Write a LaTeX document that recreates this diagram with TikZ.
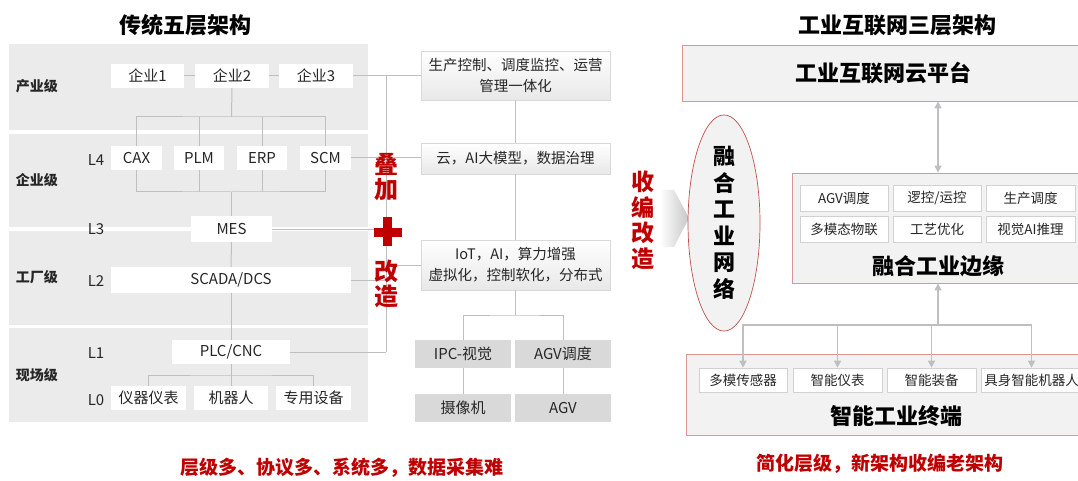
\documentclass[tikz,border=0pt]{standalone}
\usepackage{fontspec}
\setmainfont{Noto Sans CJK SC}
\usetikzlibrary{arrows.meta,shapes.geometric}
\definecolor{bandgray}{HTML}{EBEBEB}
\definecolor{lgray}{HTML}{BFBFBF}
\definecolor{dred}{HTML}{C00000}
\definecolor{pinkb}{HTML}{D99694}
\definecolor{ellb}{HTML}{C0504D}
\definecolor{panel}{HTML}{F2F2F2}
\definecolor{boxgray}{HTML}{D9D9D9}
\definecolor{txt}{HTML}{262626}
\newcommand{\fz}[2]{\fontsize{#1}{#2}\selectfont}
\tikzset{
  bb/.style n args={4}{minimum width={(#3)-(#1)}, minimum height={(#4)-(#2)}, at={({((#1)+(#3))/2},{((#2)+(#4))/2})}},
  band/.style={fill=bandgray, draw=none, inner sep=0pt},
  wbox/.style={fill=white, draw=none, inner sep=0pt, text=txt, font=\fz{15}{16}},
  lvl/.style={text=txt, font=\fz{14}{16}\bfseries},
  lnum/.style={text=txt, font=\fz{15}{17}},
  conn/.style={draw=lgray, line width=1pt},
  mbox/.style={draw=boxgray, top color=white, bottom color=black!9, inner sep=0pt, text=txt, align=center, font=\fz{14.5}{21}},
  gbox/.style={fill=boxgray, draw=none, inner sep=0pt, text=txt, font=\fz{15}{17}},
  redv/.style={text=dred, align=center, font=\fz{24}{25.5}\bfseries},
  redt/.style={text=dred, font=\fz{19}{22}\bfseries},
  title/.style={text=black, font=\fz{22}{26}\bfseries},
  panelbox/.style={fill=panel, draw=pinkb, line width=0.8pt, inner sep=0pt},
  ibox/.style={fill=white, draw=black!18, line width=0.6pt, inner sep=0pt, text=txt, font=\fz{13.5}{16}},
  garrow/.style={draw=lgray, line width=1.4pt, -{Triangle[width=7pt,length=7pt]}},
}
\begin{document}
\begin{tikzpicture}[x=1pt,y=-1pt]
\path[use as bounding box, fill=white] (0,0) rectangle (1078,481);
\clip (0,0) rectangle (1078,481);

% ---------- left: traditional five-layer ----------
\node[title] (t1) at (185,25) {传统五层架构};
\node[band, bb={9}{44}{368}{130}] (b1) {};
\node[band, bb={9}{134}{368}{227}] (b2) {};
\node[band, bb={9}{231}{368}{325}] (b3) {};
\node[band, bb={9}{328}{368}{422}] (b4) {};
\node[lvl] (lv1) at (37,86) {产业级};
\node[lvl] (lv2) at (37,180) {企业级};
\node[lvl] (lv3) at (37,277) {工厂级};
\node[lvl] (lv4) at (37,375) {现场级};
\node[lnum] (n4) at (96,160) {L4};
\node[lnum] (n3) at (96,229) {L3};
\node[lnum] (n2) at (96,281) {L2};
\node[lnum] (n1) at (96,353) {L1};
\node[lnum] (n0) at (96,400) {L0};

\node[wbox, bb={111}{64}{184}{88}] (e1) {企业1};
\node[wbox, bb={195}{64}{269}{88}] (e2) {企业2};
\node[wbox, bb={279}{64}{353}{88}] (e3) {企业3};
\node[wbox, bb={111}{146}{162}{170}] (cax) {CAX};
\node[wbox, bb={174}{146}{224}{170}] (plm) {PLM};
\node[wbox, bb={237}{146}{287}{170}] (erp) {ERP};
\node[wbox, bb={300}{146}{351}{170}] (scm) {SCM};
\node[wbox, bb={191}{216}{272}{242}] (mes) {MES};
\node[wbox, bb={111}{267}{351}{293}] (scada) {SCADA/DCS};
\node[wbox, bb={172}{340}{290}{364}] (plc) {PLC/CNC};
\node[wbox, bb={111}{386}{186}{410}] (d1) {仪器仪表};
\node[wbox, bb={194}{386}{268}{410}] (d2) {机器人};
\node[wbox, bb={276}{386}{351}{410}] (d3) {专用设备};

\coordinate (bus1) at (231.5,117);
\coordinate (bus2) at (231.5,192);
\coordinate (bus3) at (231,375);
\draw[conn] (e1) -- (e2);
\draw[conn] (e2) -- (e3);
\draw[conn] (e2.south) -- (bus1);
\draw[conn] (cax.north) |- (bus1) -| (scm.north);
\draw[conn] (plm.north) -- (plm.north |- bus1);
\draw[conn] (erp.north) -- (erp.north |- bus1);
\draw[conn] (cax.south) |- (bus2) -| (scm.south);
\draw[conn] (plm.south) -- (plm.south |- bus2);
\draw[conn] (erp.south) -- (erp.south |- bus2);
\draw[conn] (bus2) -- (mes.north);
\draw[conn] (mes) -- (scada);
\draw[conn] (scada) -- (plc);
\draw[conn] (plc) -- (d2);
\draw[conn] (d1.north) |- (bus3) -| (d3.north);

% ---------- middle column ----------
\node[mbox, bb={421}{51}{610}{100}] (m1) {生产控制、调度监控、运营\\管理一体化};
\node[mbox, bb={421}{143}{610}{174}] (m2) {云，AI大模型，数据治理};
\node[mbox, bb={421}{240}{610}{290}] (m3) {IoT，AI，算力增强\\虚拟化，控制软化，分布式};
\node[gbox, bb={415}{340}{511}{368}] (ipc) {IPC-视觉};
\node[gbox, bb={515}{340}{611}{368}] (agvd) {AGV调度};
\node[gbox, bb={415}{394}{511}{422}] (cam) {摄像机};
\node[gbox, bb={515}{394}{611}{422}] (agv) {AGV};

\coordinate (tTop) at (386,76);
\coordinate (tBot) at (386,352);
\coordinate (bus4) at (515.5,315);
\draw[conn] (tTop) -- (tBot);
\draw[conn] (e3.east) -- (e3.east -| m1.west);
\draw[conn] (scm.east) -- (scm.east -| m2.west);
\draw[conn] (mes.east) -- (mes.east -| tTop);
\draw[conn] (scada.east) -- (scada.east -| tTop);
\draw[conn] (plc.east) -- (plc.east -| tTop);
\draw[conn] (m3.west) -- (m3.west -| tTop);
\draw[conn] (m1) -- (m2);
\draw[conn] (m2) -- (m3);
\draw[conn] (m3.south) -- (bus4);
\draw[conn] (ipc.north) |- (bus4) -| (agvd.north);
\draw[conn] (ipc) -- (cam);
\draw[conn] (agvd) -- (agv);

\node[redv] (dj) at (386,177) {叠\\加};
\fill[dred] (374,227.5) rectangle (402,236.5);
\fill[dred] (383,217) rectangle (392,246);
\node[redv] (gz) at (386,284) {改\\造};

\node[redt] (bl) at (342,468) {层级多、协议多、系统多，数据采集难};

% ---------- transition ----------
\node[redv, font=\fz{23}{25.5}\bfseries] (sbgz) at (643,220.5) {收\\编\\改\\造};
\shade[left color=white, right color=black!22] (660,190) -- (674,190) -- (689,218) -- (674,247) -- (660,247) -- cycle;

% ---------- right: three-layer ----------
\node[title] (t2) at (897,25) {工业互联网三层架构};
\node[ellipse, draw=ellb, fill=panel, line width=0.7pt, minimum width=72pt, minimum height=210pt, inner sep=0pt, align=center, font=\fz{22}{26.5}\bfseries] (ell) at (724,223) {融\\合\\工\\业\\网\\络};

\node[panelbox, bb={682}{45}{1084}{101}] (cloud) {};
\node[title] (cloudt) at (883,73) {工业互联网云平台};

\node[panelbox, bb={792}{173}{1084}{283}] (edge) {};
\node[title] (edget) at (938,266) {融合工业边缘};
\node[ibox, bb={800}{185}{888}{211}] (g1) {AGV调度};
\node[ibox, bb={893}{185}{981}{211}] (g2) {逻控/运控};
\node[ibox, bb={986}{185}{1075}{211}] (g3) {生产调度};
\node[ibox, bb={800}{216}{888}{242}] (g4) {多模态物联};
\node[ibox, bb={893}{216}{981}{242}] (g5) {工艺优化};
\node[ibox, bb={986}{216}{1075}{242}] (g6) {视觉AI推理};

\node[panelbox, bb={686}{354}{1106}{435}] (term) {};
\node[title] (termt) at (896,416) {智能工业终端};
\node[ibox, bb={699}{368}{787}{392}] (s1) {多模传感器};
\node[ibox, bb={793}{368}{882}{392}] (s2) {智能仪表};
\node[ibox, bb={887}{368}{976}{392}] (s3) {智能装备};
\node[ibox, bb={981}{368}{1082}{392}] (s4) {具身智能机器人};

\draw[garrow, {Triangle[width=7pt,length=7pt]}-{Triangle[width=7pt,length=7pt]}] (edge.north |- cloud.south) -- (edge.north);
\coordinate (bus5) at (938,325);
\draw[garrow] (bus5) -- (edge.south);
\draw[garrow] (bus5) -| (s1.north);
\draw[garrow] (bus5) -| (s4.north);
\draw[garrow] (s2.north |- bus5) -- (s2.north);
\draw[garrow] (s3.north |- bus5) -- (s3.north);

\node[redt] (br) at (880,464) {简化层级，新架构收编老架构};
\end{tikzpicture}
\end{document}
